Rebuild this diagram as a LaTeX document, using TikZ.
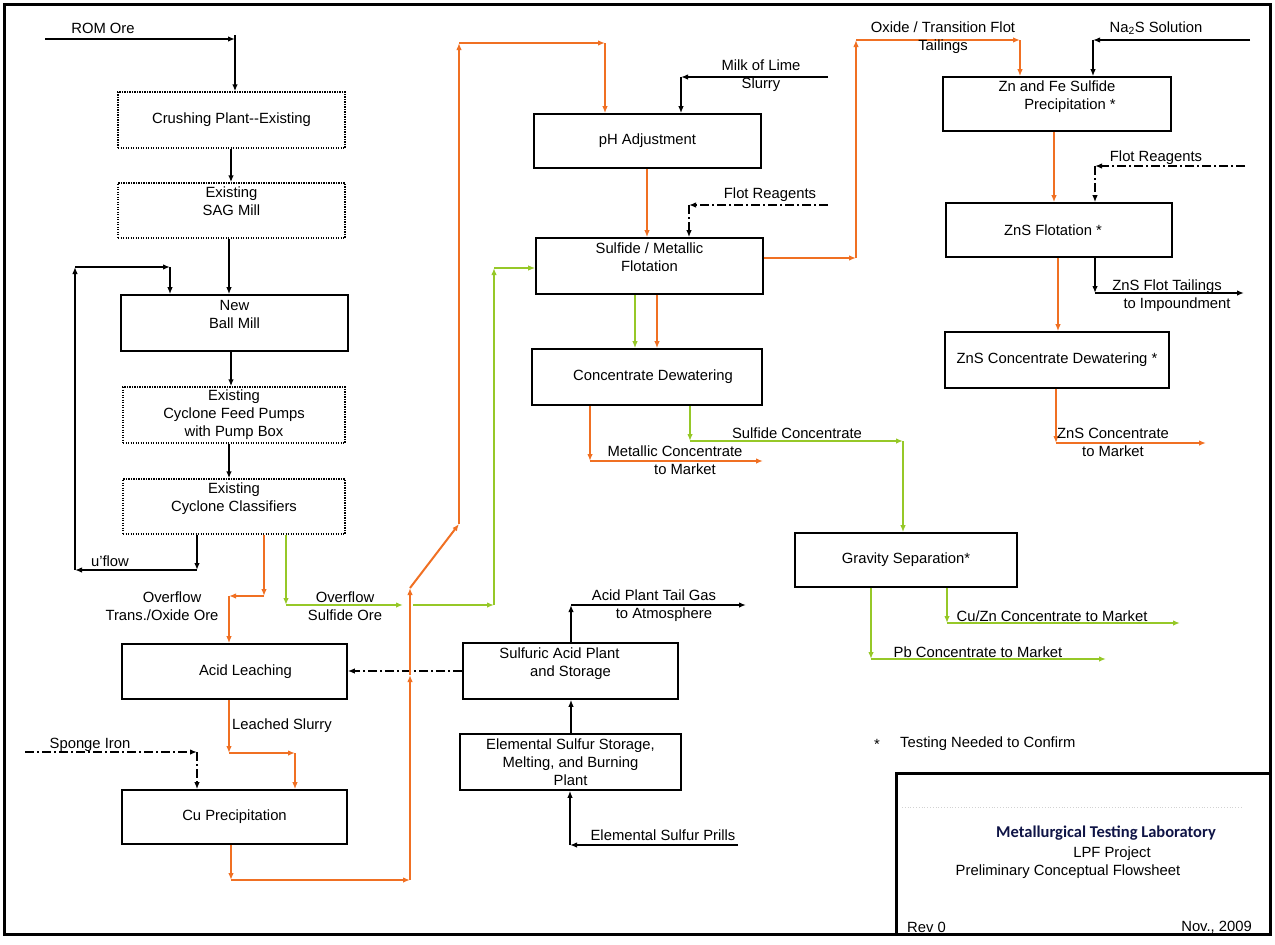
\documentclass[tikz,border=0pt]{standalone}
\usepackage{fontspec}
\setmainfont{Liberation Sans}
\newfontfamily\titlefont{Carlito}
\usetikzlibrary{arrows.meta}
\definecolor{org}{RGB}{240,112,35}
\definecolor{grn}{RGB}{150,200,40}
\definecolor{navy}{RGB}{15,20,70}
\begin{document}
\begin{tikzpicture}[x=1pt,y=-1pt,
  font=\fontsize{14.8}{18}\selectfont,
  every node/.style={inner sep=0pt, align=center},
  box/.style={draw, line width=1.6pt, minimum width=#1},
  dbox/.style={box=#1, line width=1.4pt, dash pattern=on 1.4pt off 1.1pt},
  arr/.style={-{Latex[length=7pt,width=5.5pt]}, line width=1.6pt},
  oarr/.style={arr, draw=org, line width=2pt},
  garr/.style={arr, draw=grn, line width=2pt},
  dd/.style={dash pattern=on 9pt off 3pt on 2pt off 3pt}]
\useasboundingbox (0,0) rectangle (1275,945);
\draw[line width=3pt] (4,4) rectangle (1270,934);

% ---------- boxes ----------
\node[dbox=227pt, minimum height=56pt] (crush) at (231.5,120) {Crushing Plant-{}-Existing};
\node[dbox=227pt, minimum height=55pt] (sag) at (231.5,210.5) {Existing\\SAG Mill\\\mbox{}};
\node[box=227pt, minimum height=56pt] (ball) at (234.5,323) {New\\Ball Mill\\\mbox{}};
\node[dbox=222pt, minimum height=56pt] (pumps) at (234,415) {Existing\\Cyclone Feed Pumps\\with Pump Box};
\node[dbox=222pt, minimum height=55pt] (cycl) at (234,506.5) {Existing\\Cyclone Classifiers\\\mbox{}};
\node[box=225pt, minimum height=55pt] (leach) at (234.5,671.5) {\hspace*{22pt}Acid Leaching};
\node[box=225pt, minimum height=54pt] (cuprec) at (234.5,817) {Cu Precipitation};
\node[box=227pt, minimum height=54pt] (ph) at (647.5,141) {pH Adjustment};
\node[box=227pt, minimum height=56pt] (flot) at (649.5,266) {Sulfide / Metallic\\Flotation\\\mbox{}};
\node[box=230pt, minimum height=56pt] (dew) at (647,377) {\hspace*{12pt}Concentrate Dewatering};
\node[box=215pt, minimum height=56pt] (acid) at (570.5,671) {Sulfuric Acid Plant\hspace*{22pt}\\and Storage\hspace*{22pt}\\\mbox{}};
\node[box=221pt, minimum height=56pt] (sulf) at (570.5,762) {Elemental Sulfur Storage,\\Melting, and Burning\\Plant};
\node[box=222pt, minimum height=54pt] (grav) at (906,560) {Gravity Separation*};
\node[box=228pt, minimum height=54pt] (znfe) at (1057,104) {Zn and Fe Sulfide\\\hspace*{26pt}Precipitation *\\\mbox{}};
\node[box=226pt, minimum height=54pt] (znsf) at (1059,230) {ZnS Flotation *\hspace*{12pt}};
\node[box=224pt, minimum height=56pt] (znsd) at (1057,360) {ZnS Concentrate Dewatering *};

% ---------- coordinates ----------
\coordinate (romS) at (45,39); \coordinate (romC) at (235,39); \coordinate (romT) at (235,35);
\coordinate (k229) at (229,0); \coordinate (k231) at (231,0);
\coordinate (uf1) at (197,570); \coordinate (uf2) at (75,570);
\coordinate (uf3) at (75,267); \coordinate (uf4) at (170,267);
\coordinate (ml1) at (828,77); \coordinate (ml2) at (681,77);
\coordinate (fr1) at (828,205); \coordinate (fr2) at (689,205);
\coordinate (tg1) at (571,605); \coordinate (tg2) at (746,605);
\coordinate (pr1) at (738,845); \coordinate (pr2) at (570,845);
\coordinate (na1) at (1250,40); \coordinate (na2) at (1093,40);
\coordinate (fr3) at (1245,166); \coordinate (fr4) at (1095,166);
\coordinate (zt1) at (1095,293); \coordinate (zt2) at (1244,293);
\coordinate (sp1) at (25,752); \coordinate (sp2) at (197,752);
\coordinate (ov1) at (264,596); \coordinate (ov2) at (229,596);
\coordinate (ls1) at (229,753); \coordinate (ls2) at (295,753);
\coordinate (lp1) at (231,880); \coordinate (lp2) at (410,880);
\coordinate (lpm) at (410,675); \coordinate (lp3) at (410,588);
\coordinate (lp4) at (459,524); \coordinate (lp5) at (459,43); \coordinate (lp6) at (605,43);
\coordinate (phx) at (647,0);
\coordinate (fo1) at (657,0); \coordinate (fg1) at (635,0);
\coordinate (ox1) at (856,258); \coordinate (ox2) at (856,40); \coordinate (ox3) at (1020,40);
\coordinate (zz) at (1054,0); \coordinate (zd) at (1058,0);
\coordinate (zm1) at (1056,443); \coordinate (zm2) at (1206,443);
\coordinate (mc1) at (590,461); \coordinate (mc2) at (763,461);
\coordinate (gs1) at (286,605); \coordinate (gs2) at (403,605);
\coordinate (gs3) at (413,605); \coordinate (gs4) at (494,605); \coordinate (gs5) at (494,268);
\coordinate (sc1) at (690,441); \coordinate (sc2) at (903,441);
\coordinate (cz1) at (947,623); \coordinate (cz2) at (1180,623);
\coordinate (pb1) at (871,659); \coordinate (pb2) at (1106,659);

% ---------- black connectors ----------
\draw[arr] (romS) -- (romC);
\draw[arr] (romT) -- (romT |- crush.north);
\draw[arr] (k231 |- crush.south) -- (k231 |- sag.north);
\draw[arr] (k229 |- sag.south) -- (k229 |- ball.north);
\draw[arr] (k231 |- ball.south) -- (k231 |- pumps.north);
\draw[arr] (k229 |- pumps.south) -- (k229 |- cycl.north);
\draw[arr] (uf1 |- cycl.south) -- (uf1);
\draw[arr] (uf1) -- (uf2);
\draw[arr] (uf2) -- (uf3);
\draw[arr] (uf3) -- (uf4);
\draw[arr] (uf4) -- (uf4 |- ball.north);
\draw[arr] (ml1) -- (ml2);
\draw[arr] (ml2) -- (ml2 |- ph.north);
\draw[arr,dd] (fr1) -- (fr2);
\draw[arr,dd] (fr2) -- (fr2 |- flot.north);
\draw[arr,dd] (acid.west) -- (acid.west -| leach.east);
\draw[arr] (tg1 |- acid.north) -- (tg1);
\draw[arr] (tg1) -- (tg2);
\draw[arr] (tg1 |- sulf.north) -- (tg1 |- acid.south);
\draw[arr] (pr1) -- (pr2);
\draw[arr] (pr2) -- (pr2 |- sulf.south);
\draw[arr] (na1) -- (na2);
\draw[arr] (na2) -- (na2 |- znfe.north);
\draw[arr,dd] (fr3) -- (fr4);
\draw[arr,dd] (fr4) -- (fr4 |- znsf.north);
\draw[arr] (zt1 |- znsf.south) -- (zt1);
\draw[arr] (zt1) -- (zt2);
\draw[arr,dd] (sp1) -- (sp2);
\draw[arr,dd] (sp2) -- (sp2 |- cuprec.north);

% ---------- orange connectors ----------
\draw[oarr] (ov1 |- cycl.south) -- (ov1);
\draw[oarr] (ov1) -- (ov2);
\draw[oarr] (ov2) -- (ov2 |- leach.north);
\draw[oarr] (ls1 |- leach.south) -- (ls1);
\draw[oarr] (ls1) -- (ls2);
\draw[oarr] (ls2) -- (ls2 |- cuprec.north);
\draw[oarr] (lp1 |- cuprec.south) -- (lp1);
\draw[oarr] (lp1) -- (lp2);
\draw[oarr] (lp2) -- (lpm);
\draw[oarr] (lpm) -- (lp3);
\draw[oarr] (lp3) -- (lp4);
\draw[oarr] (lp4) -- (lp5);
\draw[oarr] (lp5) -- (lp6);
\draw[oarr] (lp6) -- (lp6 |- ph.north);
\draw[oarr] (phx |- ph.south) -- (phx |- flot.north);
\draw[oarr] (fo1 |- flot.south) -- (fo1 |- dew.north);
\draw[oarr] (ox1 -| flot.east) -- (ox1);
\draw[oarr] (ox1) -- (ox2);
\draw[oarr] (ox2) -- (ox3);
\draw[oarr] (ox3) -- (ox3 |- znfe.north);
\draw[oarr] (zz |- znfe.south) -- (zz |- znsf.north);
\draw[oarr] (zd |- znsf.south) -- (zd |- znsd.north);
\draw[oarr] (zm1 |- znsd.south) -- (zm1);
\draw[oarr] (zm1) -- (zm2);
\draw[oarr] (mc1 |- dew.south) -- (mc1);
\draw[oarr] (mc1) -- (mc2);

% ---------- green connectors ----------
\draw[garr] (gs1 |- cycl.south) -- (gs1);
\draw[garr] (gs1) -- (gs2);
\draw[garr] (gs3) -- (gs4);
\draw[garr] (gs4) -- (gs5);
\draw[garr] (gs5) -- (gs5 -| flot.west);
\draw[garr] (fg1 |- flot.south) -- (fg1 |- dew.north);
\draw[garr] (sc1 |- dew.south) -- (sc1);
\draw[garr] (sc1) -- (sc2);
\draw[garr] (sc2) -- (sc2 |- grav.north);
\draw[garr] (cz1 |- grav.south) -- (cz1);
\draw[garr] (cz1) -- (cz2);
\draw[garr] (pb1 |- grav.south) -- (pb1);
\draw[garr] (pb1) -- (pb2);

% ---------- labels ----------
\node (lrom) at (103,28) {ROM Ore};
\node (luf) at (110,561) {u'flow};
\node (lovt) at (162,606) {\hspace*{20pt}Overflow\\Trans./Oxide Ore};
\node (lovs) at (345,606) {Overflow\\Sulfide Ore};
\node (lls) at (282,726) {Leached Slurry};
\node (lsp) at (90,745) {Sponge Iron};
\node (lml) at (761,76) {Milk of Lime\\Slurry};
\node (lfr1) at (770,195) {Flot Reagents};
\node (ltg) at (654,606) {Acid Plant Tail Gas\\\hspace*{20pt}to Atmosphere};
\node (lpr) at (663,835) {Elemental Sulfur Prills};
\node (lmc) at (675,460) {Metallic Concentrate\\\hspace*{20pt}to Market};
\node (lsc) at (797,433) {Sulfide Concentrate};
\node (lox) at (943,38) {Oxide / Transition Flot\\Tailings};
\node (lna) at (1156,28) {Na\textsubscript{2}S Solution};
\node (lfr2) at (1156,158) {Flot Reagents};
\node (lzt) at (1167,296) {ZnS Flot Tailings\\\hspace*{20pt}to Impoundment};
\node (lzm) at (1113,442) {ZnS Concentrate\\to Market};
\node (lcz) at (1052,616) {Cu/Zn Concentrate to Market};
\node (lpb) at (978,652) {Pb Concentrate to Market};
\node (last) at (877,744) {*};
\node[anchor=west] (ltest) at (900,744) {Testing Needed to Confirm};

% ---------- title block ----------
\draw[line width=3pt] (896,934) -- (896,773) -- (1270,773);
\draw[gray!35, line width=0.8pt, dotted] (902,807) -- (1242,807);
\node[text=navy, font=\titlefont\bfseries\fontsize{16.5}{19}\selectfont] (tlab) at (1106,833) {Metallurgical Testing Laboratory};
\node (tlpf) at (1112,854) {LPF Project};
\node (tpre) at (1068,872) {Preliminary Conceptual Flowsheet};
\node[anchor=west] (trev) at (907,927) {Rev 0};
\node[anchor=east] (tnov) at (1252,927) {Nov., 2009};
\end{tikzpicture}
\end{document}
